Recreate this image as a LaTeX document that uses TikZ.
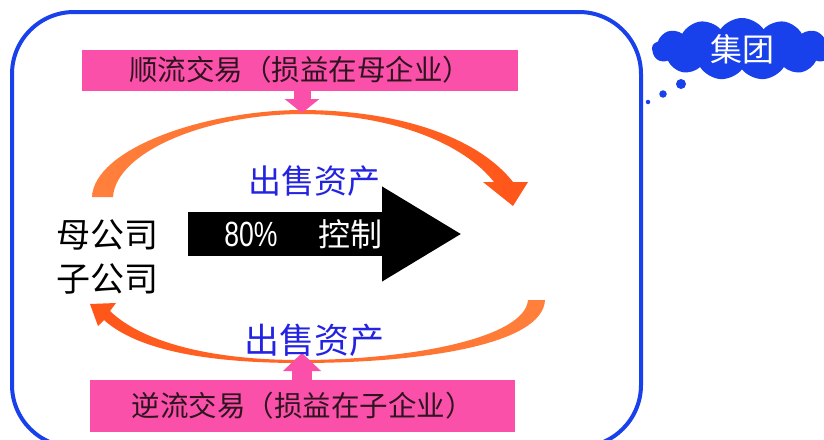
\documentclass[tikz,border=0pt]{standalone}
\usepackage{fontspec}
\setmainfont{Liberation Sans}
\newfontfamily\cjk{Noto Sans CJK SC}
\usetikzlibrary{shapes.symbols,arrows.meta}
\definecolor{frameblue}{RGB}{25,65,235}
\definecolor{pinkbox}{RGB}{250,80,170}
\definecolor{orangeL}{RGB}{255,128,60}
\definecolor{orangeR}{RGB}{255,85,25}
\definecolor{txtblue}{RGB}{35,35,225}
\definecolor{darktxt}{RGB}{45,20,30}
\begin{document}
\begin{tikzpicture}[x=1pt,y=-1pt,
  pinkrect/.style={fill=pinkbox, draw=none, inner sep=0pt, text=darktxt,
    font=\cjk\fontsize{28.5}{30}\selectfont},
  bluelabel/.style={text=txtblue, inner sep=0pt, font=\cjk\fontsize{33}{35}\selectfont},
  corplabel/.style={text=black, inner sep=0pt, font=\cjk\fontsize{34}{36}\selectfont},
  pinkarrow/.style={draw=pinkbox},
  dot/.style={circle, fill=frameblue, inner sep=0pt}]
\useasboundingbox (0,0) rectangle (824,439);
\clip (0,0) rectangle (824,439);
\fill[white] (0,0) rectangle (824,439);

% group frame
\draw[frameblue, line width=4pt, rounded corners=62pt] (12,12) rectangle (641,447);

% cloud
\node[cloud, cloud puffs=13, cloud puff arc=110, aspect=3, fill=frameblue, draw=none,
  minimum width=180pt, minimum height=62pt, text=white, inner sep=0pt,
  font=\cjk\fontsize{32}{34}\selectfont] (cloud) at (742,49) {集团};
\node[dot, minimum size=10pt] (d1) at (681,84) {};
\node[dot, minimum size=7.5pt] (d2) at (663,94) {};
\node[dot, minimum size=4.5pt] (d3) at (648,102) {};

% orange arcs
\shade[left color=orangeL, right color=orangeR]
  (92,197) .. controls (94,150) and (200,111) .. (300,110)
  .. controls (405,110) and (480,140) .. (513,182)
  -- (528,182) -- (513,206) -- (483,182) -- (494,182)
  .. controls (465,145) and (395,114) .. (300,114)
  .. controls (205,115) and (116,152) .. (113,197) -- cycle;
\shade[left color=orangeR, right color=orangeL]
  (545,300) .. controls (543,345) and (420,363) .. (300,363)
  .. controls (200,363) and (135,348) .. (104,320)
  -- (98,326) -- (90,304) -- (116,303) -- (110,311)
  .. controls (140,340) and (205,360) .. (300,360)
  .. controls (410,360) and (525,338) .. (528,300) -- cycle;

% pink boxes
\node[pinkrect, minimum width=436pt, minimum height=41pt] (top) at (300,70)
  {顺流交易（损益在母企业）};
\node[pinkrect, minimum width=425pt, minimum height=52pt] (bot) at (302.5,406)
  {逆流交易（损益在子企业）};
\coordinate (toppeak) at (302,113);
\coordinate (botpeak) at (302,353);
\draw[pinkarrow, line width=17pt, -{Triangle[width=34pt,length=14pt]}]
  (top.south -| toppeak) -- (toppeak);
\draw[pinkarrow, line width=20pt, -{Triangle[width=37pt,length=18pt]}]
  (bot.north -| botpeak) -- (botpeak);

% black control arrow
\coordinate (ctrlS) at (188,234);
\coordinate (ctrlE) at (462,234);
\draw[black, line width=44pt, -{Triangle[width=89pt,length=80pt]}] (ctrlS) -- (ctrlE);
\node[text=white, inner sep=0pt, font=\fontsize{35}{37}\selectfont, xscale=0.76] (pct) at (251,234) {80\%};
\node[text=white, inner sep=0pt, font=\cjk\fontsize{32}{34}\selectfont] (ctl) at (350,234) {控制};

% labels
\node[bluelabel] (sellTop) at (314,181) {出售资产};
\node[bluelabel, font=\cjk\fontsize{35}{37}\selectfont] (sellBot) at (314,340) {出售资产};
\node[corplabel] (parent) at (107,235) {母公司};
\node[corplabel] (sub) at (107,279) {子公司};
\end{tikzpicture}
\end{document}
